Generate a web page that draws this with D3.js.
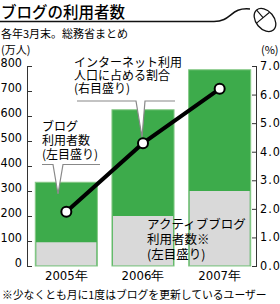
<!DOCTYPE html>
<html>
<head>
<meta charset="utf-8">
<script src="https://cdn.jsdelivr.net/npm/d3@7"></script>
<style>
  body { margin: 0; background: #fff; }
  svg { display: block; font-family: "Noto Sans CJK JP", sans-serif; }
  .num { font-family: "Liberation Sans Narrow", "DejaVu Sans Condensed", "Liberation Sans", sans-serif; }
</style>
</head>
<body>
<div id="chart"></div>
<script>
const years = ["2005年", "2006年", "2007年"];
const blogUsers = [335, 625, 785];     // 万人, left scale
const activeUsers = [95, 200, 300];    // 万人, left scale
const netRate = [1.9, 4.3, 6.2];       // %, right scale
const leftTicks = [0, 100, 200, 300, 400, 500, 600, 700, 800];
const rightTicks = [0, 1, 2, 3, 4, 5, 6, 7];

const width = 280, height = 304;
const green = "#3dab4b", greenEdge = "#86c987", gray = "#d9d9d9";

const svg = d3.select("#chart").append("svg")
  .attr("width", width)
  .attr("height", height);

// title + mouse cable
svg.append("text")
  .attr("x", 1).attr("y", 18)
  .style("font-size", "15.5px").style("font-weight", "500")
  .text("ブログの利用者数");

svg.append("path")
  .attr("d", "M0,21.5H214C232,21.5 230,7 250,9")
  .attr("fill", "none").attr("stroke", "#111").attr("stroke-width", 1.5);

const mouse = svg.append("g").attr("transform", "translate(265,20) rotate(-40)");
mouse.append("ellipse").attr("rx", 9).attr("ry", 13)
  .attr("fill", "#fff").attr("stroke", "#111").attr("stroke-width", 1.3);
mouse.append("path").attr("d", "M-8.5,-3H8.5M0,-13V-3")
  .attr("fill", "none").attr("stroke", "#111").attr("stroke-width", 1.1);

svg.append("text").attr("x", 1).attr("y", 38)
  .style("font-size", "11px").text("各年3月末。総務省まとめ");
svg.append("text").attr("x", 1).attr("y", 54)
  .style("font-size", "11px").text("(万人)");
svg.append("text").attr("x", 261).attr("y", 54)
  .style("font-size", "11px").text("(%)");

// scales
const x = d3.scaleBand().domain(years).range([28, 258])
  .paddingInner(0.19).paddingOuter(0.095);
const yL = d3.scaleLinear().domain([0, 800]).range([266, 66]);
const yR = d3.scaleLinear().domain([0, 7]).range([266, 66]);

// bars
const bars = svg.append("g");
years.forEach((yr, i) => {
  bars.append("rect")
    .attr("x", x(yr)).attr("y", yL(blogUsers[i]))
    .attr("width", x.bandwidth()).attr("height", yL(0) - yL(blogUsers[i]))
    .attr("fill", green).attr("stroke", greenEdge).attr("stroke-width", 1);
  bars.append("rect")
    .attr("x", x(yr) + 1).attr("y", yL(activeUsers[i]))
    .attr("width", x.bandwidth() - 2).attr("height", yL(0) - yL(activeUsers[i]) - 0.5)
    .attr("fill", gray);
});

// axes
const leftAxis = svg.append("g").attr("transform", "translate(27,0)")
  .call(d3.axisRight(yL).tickValues(leftTicks).tickSize(5).tickFormat(""));
leftAxis.select(".domain").attr("d", "M0.5," + yL(800) + "V" + yL(0));
leftAxis.selectAll("line").attr("stroke", "#333");
leftAxis.select(".domain").attr("stroke", "#333");

svg.append("g").selectAll("text").data(leftTicks).join("text")
  .attr("class", "num")
  .attr("x", 22).attr("y", d => yL(d) + 1)
  .attr("text-anchor", "end")
  .style("font-size", "12.5px")
  .text(d => d);

const rightAxis = svg.append("g").attr("transform", "translate(257,0)")
  .call(d3.axisLeft(yR).tickValues(rightTicks).tickSize(5).tickFormat(""));
rightAxis.select(".domain").attr("d", "M-0.5," + yR(7) + "V" + yR(0));
rightAxis.selectAll("line").attr("stroke", "#333");
rightAxis.select(".domain").attr("stroke", "#333");

svg.append("g").selectAll("text").data(rightTicks).join("text")
  .attr("class", "num")
  .attr("x", 260).attr("y", d => yR(d) + 4)
  .style("font-size", "12.5px").style("letter-spacing", "1px")
  .text(d => d.toFixed(1));

svg.append("g").selectAll("text").data(years).join("text")
  .attr("class", "num")
  .attr("x", d => x(d) + x.bandwidth() / 2).attr("y", 280)
  .attr("text-anchor", "middle")
  .style("font-size", "13px")
  .text(d => d);

// line
const cx = i => x(years[i]) + x.bandwidth() / 2;
svg.append("path")
  .datum(netRate)
  .attr("fill", "none").attr("stroke", "#000").attr("stroke-width", 4)
  .attr("d", d3.line().x((d, i) => cx(i)).y(d => yR(d)));

// callouts
const p1 = [cx(1), yR(netRate[1])];
svg.append("path")
  .attr("d", `M77,101H${p1[0] - 7}L${p1[0] - 1},${p1[1] - 6}L${p1[0] + 2},101H175`)
  .attr("fill", "#fff").attr("stroke", "#888").attr("stroke-width", 1.2);
const p0x = 58;
svg.append("path")
  .attr("d", `M42,164.5H${p0x - 5}L${p0x},194L${p0x + 5},164.5H100`)
  .attr("fill", "#fff").attr("stroke", "#888").attr("stroke-width", 1.2);

svg.selectAll("circle").data(netRate).join("circle")
  .attr("cx", (d, i) => cx(i)).attr("cy", d => yR(d))
  .attr("r", 5).attr("fill", "#fff").attr("stroke", "#000").attr("stroke-width", 2);

// annotation labels
function label(lines, x0, y0, dy, size) {
  const t = svg.append("text").style("font-size", size + "px");
  lines.forEach((s, i) => t.append("tspan").attr("x", x0).attr("y", y0 + i * dy).text(s));
}
label(["インターネット利用", "人口に占める割合", "(右目盛り)"], 74, 67, 13, 12);
label(["ブログ", "利用者数", "(左目盛り)"], 42, 131, 14, 12);
label(["アクティブブログ", "利用者数※", "(左目盛り)"], 147, 229, 15, 12.5);

svg.append("text").attr("x", 2).attr("y", 299)
  .style("font-size", "10.8px")
  .text("※少なくとも月に1度はブログを更新しているユーザー");
</script>
</body>
</html>
